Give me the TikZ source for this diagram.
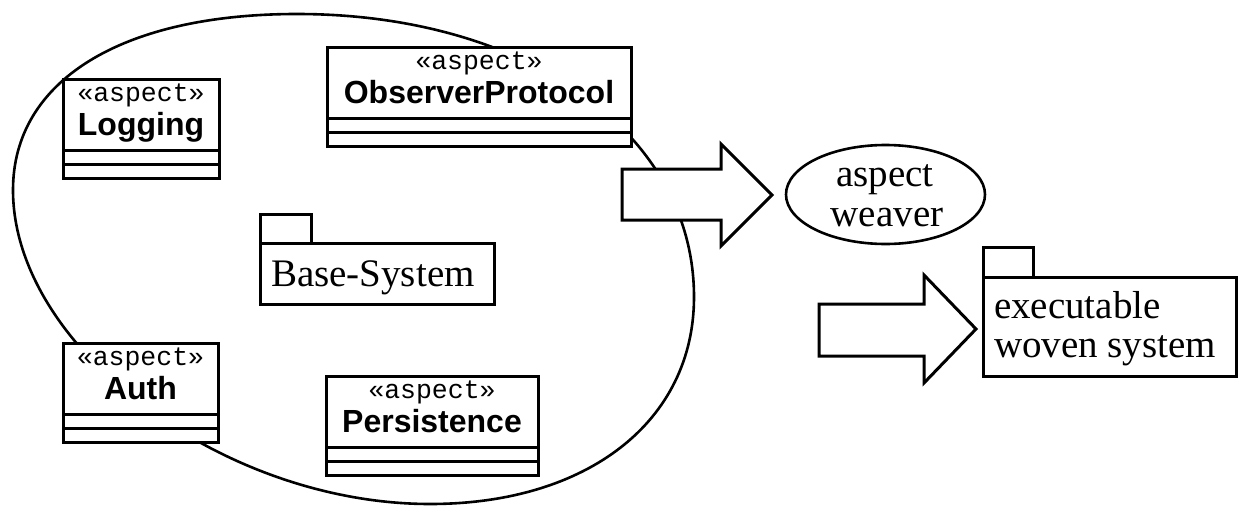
\documentclass[tikz,border=0pt]{standalone}
\usepackage{fontspec}
\setmainfont{Liberation Serif}
\newfontfamily\monof{Liberation Mono}
\newfontfamily\sansf{Liberation Sans}
\usetikzlibrary{shapes.geometric}
\newcommand{\stfont}{\monof\fontsize{26.5}{30}\selectfont}
\newcommand{\nmfont}{\sansf\bfseries\fontsize{32}{36}\selectfont}
\newcommand{\txfont}{\fontsize{39}{40}\selectfont}
\tikzset{
  hdr/.style={draw, fill=white, line width=3pt, inner sep=0pt, outer sep=0pt, minimum height=71.5pt, anchor=north west},
  comp/.style={draw, fill=white, line width=3pt},
  lbl/.style={inner sep=0pt, outer sep=0pt, anchor=base},
  pkg/.style={draw, fill=white, line width=3pt, inner sep=0pt, outer sep=0pt, anchor=north west},
  blockarrow/.style={draw, fill=white, line width=3pt, line join=miter},
  bigoval/.style={draw, line width=2.6pt},
  weaverstyle/.style={ellipse, draw, fill=white, line width=2.6pt, inner sep=0pt, outer sep=0pt},
}
\newcommand{\aspectbox}[5]{%
  \node[hdr, minimum width=#4pt] (#1) at (#2,#3) {};
  \draw[comp] (#1.south west) rectangle ++(#4,14);
  \draw[comp] ([yshift=-14pt]#1.south west) rectangle ++(#4,14);
  \node[lbl, font=\stfont] (#1st) at ([yshift=-22.5pt]#1.north) {«aspect»};
  \node[lbl, font=\nmfont] (#1nm) at ([yshift=-56pt]#1.north) {#5};
}
\begin{document}
\begin{tikzpicture}[x=1pt, y=-1pt]
\useasboundingbox (0,0) rectangle (1239,506);
% large closed oval
\draw[bigoval] (297,14) .. controls (527,14) and (694,133) .. (694,297)
  .. controls (694,421) and (588,504) .. (430,504)
  .. controls (222,504) and (13,347) .. (13,190)
  .. controls (13,81) and (121,14) .. (297,14) -- cycle;
% aspect classes
\aspectbox{log}{63}{79}{156}{Logging}
\aspectbox{obs}{327}{47}{304}{ObserverProtocol}
\aspectbox{auth}{63}{343}{155}{Auth}
\aspectbox{pers}{326}{376}{212}{Persistence}
% Base-System package
\node[pkg, minimum width=51pt, minimum height=29pt] (bstab) at (260,214) {};
\node[pkg, minimum width=234pt, minimum height=61pt] (bs) at (260,243) {};
\node[lbl, anchor=base west, font=\txfont] (bstxt) at (271,286) {Base-System};
% block arrows
\draw[blockarrow] (622,169) -- (721,169) -- (721,144) -- (772,195) -- (721,246) -- (721,220) -- (622,220) -- cycle;
\draw[blockarrow] (819,304) -- (924,304) -- (924,275) -- (976,329) -- (924,383) -- (924,356) -- (819,356) -- cycle;
% aspect weaver
\node[weaverstyle, minimum width=199pt, minimum height=99pt] (weaver) at (885.5,194.5) {};
\node[lbl, font=\txfont] (w1) at (885,186) {aspect};
\node[lbl, font=\txfont] (w2) at (887,226) {weaver};
% executable woven system package
\node[pkg, minimum width=50pt, minimum height=30pt] (extab) at (983,247) {};
\node[pkg, minimum width=253pt, minimum height=99pt] (ex) at (983,277) {};
\node[lbl, anchor=base west, font=\txfont] (ex1) at (994,318) {executable};
\node[lbl, anchor=base west, font=\txfont] (ex2) at (994,357) {woven system};
\end{tikzpicture}
\end{document}
